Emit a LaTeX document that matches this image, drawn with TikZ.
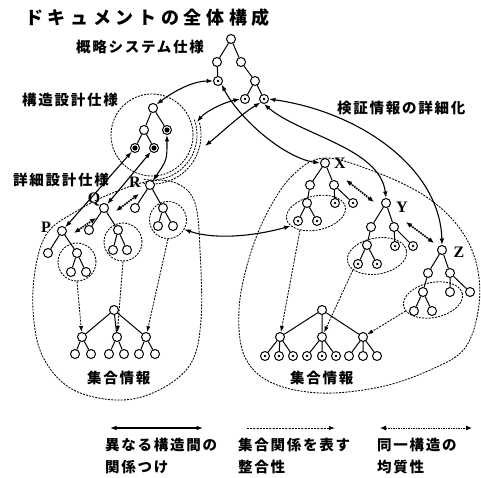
\documentclass[tikz,border=0pt]{standalone}
\usepackage{fontspec}
\usetikzlibrary{arrows.meta,shapes.geometric}
\newfontfamily\jp[LetterSpace=12]{Noto Sans CJK JP}
\newfontfamily\jptitle[LetterSpace=26]{Noto Sans CJK JP}
\newfontfamily\lserif{Liberation Serif}
\begin{document}
\begin{tikzpicture}[x=1pt,y=-1pt,
  nd/.style={circle,draw,line width=1pt,minimum size=9pt,inner sep=0pt,fill=white},
  tedge/.style={line width=1pt},
  dsh/.style={line width=0.85pt,dash pattern=on 2pt off 1.2pt},
  relarrow/.style={line width=1.1pt,{Latex[length=6.5pt,width=4.6pt]}-{Latex[length=6.5pt,width=4.6pt]}},
  setarrow/.style={dsh,-{Latex[length=6pt,width=4.2pt]}},
  homarrow/.style={line width=1.7pt,dash pattern=on 1.6pt off 0.9pt,{Latex[length=6pt,width=5pt]}-{Latex[length=6pt,width=5pt]}},
  lbl/.style={font=\fontsize{14.5}{16}\jp\bfseries,inner sep=0pt,anchor=west},
  ltr/.style={font=\fontsize{16}{16}\lserif\bfseries,inner sep=0pt}
]
\useasboundingbox[fill=white] (0,0) rectangle (481,478);

% regions
\draw[dsh] plot[smooth cycle,tension=0.6] coordinates {(150,181) (178,184) (195,203) (200,250) (201,320) (190,365) (155,392) (115,400) (70,388) (42,355) (33,310) (36,265) (48,232) (75,212) (110,194)};
\draw[dsh] plot[smooth cycle,tension=0.6] coordinates {(325,158) (292,176) (266,215) (248,262) (239,310) (244,355) (270,382) (320,393) (380,387) (430,370) (465,348) (479,305) (476,262) (458,226) (425,196) (378,173)};

% structure design circle and arcs
\node[circle,draw,dsh,minimum size=82pt,inner sep=0pt] (sc) at (152,135) {};
\draw[dsh] plot[domain=20:-102,samples=40] ({152+45*cos(\x)},{135-45*sin(\x)});
\draw[dsh] plot[domain=14:-100,samples=40] ({152+49*cos(\x)},{135-49*sin(\x)});

% subtree circles and ellipses
\node[circle,draw,dsh,minimum size=38pt,inner sep=0pt] (cp) at (77,262) {};
\node[circle,draw,dsh,minimum size=38pt,inner sep=0pt] (cq) at (123,242) {};
\node[circle,draw,dsh,minimum size=37pt,inner sep=0pt] (cr) at (168,220) {};
\node[ellipse,draw,dsh,minimum width=60pt,minimum height=34pt,inner sep=0pt,rotate=12] (ex) at (316,213) {};
\node[ellipse,draw,dsh,minimum width=60pt,minimum height=36pt,inner sep=0pt,rotate=10] (ey) at (377,256) {};
\node[ellipse,draw,dsh,minimum width=60pt,minimum height=35pt,inner sep=0pt,rotate=12] (ez) at (433,300) {};

% top tree
\node[nd] (t0) at (231,39) {};
\node[nd] (t1) at (217,62) {};
\node[nd] (t2) at (241,62) {};
\node[nd] (t3) at (218,81) {};
\node[nd] (t4) at (255,81) {};
\node[nd] (t5) at (245,99) {};
\node[nd] (t6) at (264,99) {};
\draw[tedge] (t0)--(t1) (t0)--(t2) (t1)--(t3) (t2)--(t4) (t4)--(t5) (t4)--(t6);

% structure tree
\node[nd] (s0) at (153,108) {};
\node[nd] (s1) at (144,130) {};
\node[nd] (s2) at (167,130) {};
\node[nd] (s3) at (135,148) {};
\node[nd] (s4) at (154,148) {};
\draw[tedge] (s0)--(s1) (s0)--(s2) (s1)--(s3) (s1)--(s4);

% P Q R
\node[nd] (P) at (62,231) {};
\node[nd] (p1) at (48,253) {};
\node[nd] (p2) at (77,253) {};
\node[nd] (p3) at (71,272) {};
\node[nd] (p4) at (86,272) {};
\draw[tedge] (P)--(p1) (P)--(p2) (p2)--(p3) (p2)--(p4);
\node[nd] (Q) at (104,208) {};
\node[nd] (q1) at (89,230) {};
\node[nd] (q2) at (118,230) {};
\node[nd] (q3) at (113,250) {};
\node[nd] (q4) at (127,250) {};
\draw[tedge] (Q)--(q1) (Q)--(q2) (q2)--(q3) (q2)--(q4);
\node[nd] (R) at (150,185) {};
\node[nd] (r1) at (135,208) {};
\node[nd] (r2) at (163,208) {};
\node[nd] (r3) at (158,226) {};
\node[nd] (r4) at (173,226) {};
\draw[tedge] (R)--(r1) (R)--(r2) (r2)--(r3) (r2)--(r4);

% X Y Z
\node[nd] (x0) at (325,163) {};
\node[nd] (x1) at (310,185) {};
\node[nd] (x2) at (334,185) {};
\node[nd] (x3) at (307,203) {};
\node[nd] (x4) at (298,221) {};
\node[nd] (x5) at (317,221) {};
\node[nd] (x6) at (335,203) {};
\node[nd] (x7) at (353,203) {};
\draw[tedge] (x0)--(x1) (x0)--(x2) (x1)--(x3) (x3)--(x4) (x3)--(x5) (x2)--(x6) (x2)--(x7);
\node[nd] (y0) at (386,203) {};
\node[nd] (y1) at (371,227) {};
\node[nd] (y2) at (394,227) {};
\node[nd] (y3) at (367,245) {};
\node[nd] (y4) at (358,264) {};
\node[nd] (y5) at (377,264) {};
\node[nd] (y6) at (395,246) {};
\node[nd] (y7) at (413,246) {};
\draw[tedge] (y0)--(y1) (y0)--(y2) (y1)--(y3) (y3)--(y4) (y3)--(y5) (y2)--(y6) (y2)--(y7);
\node[nd] (z0) at (442,250) {};
\node[nd] (z1) at (428,273) {};
\node[nd] (z2) at (450,273) {};
\node[nd] (z3) at (423,292) {};
\node[nd] (z4) at (414,311) {};
\node[nd] (z5) at (432,311) {};
\node[nd] (z6) at (450,292) {};
\node[nd] (z7) at (470,292) {};
\draw[tedge] (z0)--(z1) (z0)--(z2) (z1)--(z3) (z3)--(z4) (z3)--(z5) (z2)--(z6) (z2)--(z7);

% bottom left tree
\node[nd] (L0) at (114,310) {};
\node[nd] (L1) at (82,337) {};
\node[nd] (L2) at (117,337) {};
\node[nd] (L3) at (146,337) {};
\node[nd] (l11) at (75,354) {};
\node[nd] (l12) at (91,354) {};
\node[nd] (l21) at (109,354) {};
\node[nd] (l22) at (124,354) {};
\node[nd] (l31) at (139,354) {};
\node[nd] (l32) at (155,354) {};
\draw[tedge] (L0)--(L1) (L0)--(L2) (L0)--(L3) (L1)--(l11) (L1)--(l12) (L2)--(l21) (L2)--(l22) (L3)--(l31) (L3)--(l32);

% bottom right tree
\node[nd] (B0) at (322,310) {};
\node[nd] (B1) at (280,337) {};
\node[nd] (B2) at (322,337) {};
\node[nd] (B3) at (363,337) {};
\node[nd] (b11) at (265,356) {};
\node[nd] (b12) at (279,356) {};
\node[nd] (b13) at (293,356) {};
\node[nd] (b21) at (307,356) {};
\node[nd] (b22) at (322,356) {};
\node[nd] (b23) at (336,356) {};
\node[nd] (b31) at (349,356) {};
\node[nd] (b32) at (363,356) {};
\node[nd] (b33) at (377,356) {};
\draw[tedge] (B0)--(B1) (B0)--(B2) (B0)--(B3) (B1)--(b11) (B1)--(b12) (B1)--(b13) (B2)--(b21) (B2)--(b22) (B2)--(b23) (B3)--(b31) (B3)--(b32) (B3)--(b33);

% centre marks of nodes
\foreach \n in {t3,t5,t6,x4,x5,x6,x7,y4,y5,y6,y7,b11,b12,b13,b21,b22,b23}
  \fill (\n.center) circle (1.3pt);
\foreach \n in {s2,s3,s4}
  \fill (\n.center) circle (2.6pt);

% free ends
\coordinate (ca1) at (197,122);
\coordinate (ca2) at (205,146);
\coordinate (h1a) at (74,233); \coordinate (h1b) at (96,218);
\coordinate (h2a) at (116,211); \coordinate (h2b) at (139,194);
\coordinate (h3a) at (346,180); \coordinate (h3b) at (374,202);
\coordinate (h4a) at (406,222); \coordinate (h4b) at (434,243);

% relation arrows (solid)
\draw[relarrow] (s0.north east) .. controls (178,88) and (196,81) .. (t3.west);
\draw[relarrow] (t5.west) .. controls (222,103) and (205,112) .. (ca1);
\draw[relarrow] (t6.south west) .. controls (240,115) and (220,134) .. (ca2);
\draw[relarrow] (t6.south) .. controls (300,135) and (380,148) .. (y0.north);
\draw[relarrow] (t3.south east) .. controls (240,120) and (285,158) .. (x0.west);
\draw[relarrow] (t6.east) .. controls (360,112) and (440,168) .. (z0.north);
\draw[relarrow] (cr.-30) .. controls (215,240) and (255,236) .. (ex.195);
\draw[relarrow] (s3) -- (P);
\draw[relarrow] (s4) -- (Q);
\draw[relarrow] (s2) .. controls (167,160) .. (R);

% set relation arrows (dotted)
\draw[setarrow] (cp.south) -- (L1);
\draw[setarrow] (cq.south) -- (L2);
\draw[setarrow] (cr.south) -- (L3);
\draw[setarrow] (ex.215) -- (B1);
\draw[setarrow] (ey.200) -- (B2);
\draw[setarrow] (ez.190) -- (B3);

% homogeneity arrows
\draw[homarrow] (h1a) -- (h1b);
\draw[homarrow] (h2a) -- (h2b);
\draw[homarrow] (h3a) -- (h3b);
\draw[homarrow] (h4a) -- (h4b);

% labels
\node[inner sep=0pt,anchor=west,font=\fontsize{18}{20}\jptitle\bfseries] (title) at (25,18) {ドキュメントの全体構成};
\node[lbl] (n1) at (76,47) {概略システム仕様};
\node[lbl] (n2) at (22,100) {構造設計仕様};
\node[lbl] (n3) at (13,180) {詳細設計仕様};
\node[lbl] (n4) at (337,108) {検証情報の詳細化};
\node[lbl] (n5) at (87,378) {集合情報};
\node[lbl] (n6) at (290,378) {集合情報};
\node[ltr] (lp) at (46,227) {P};
\node[ltr] (lq) at (94,200) {Q};
\node[ltr] (lr) at (135,182) {R};
\node[ltr] (lx) at (340,163) {X};
\node[ltr] (ly) at (402,207) {Y};
\node[ltr] (lz) at (459,252) {Z};

% legend
\coordinate (g1a) at (110,428); \coordinate (g1b) at (203,428);
\coordinate (g2a) at (247,428); \coordinate (g2b) at (335,428);
\coordinate (g3a) at (380,428); \coordinate (g3b) at (472,428);
\draw[relarrow] (g1a) -- (g1b);
\draw[setarrow] (g2a) -- (g2b);
\draw[homarrow,line width=1pt] (g3a) -- (g3b);
\node[lbl] (e1) at (105,445) {異なる構造間の};
\node[lbl] (e2) at (105,467) {関係つけ};
\node[lbl] (e3) at (238,445) {集合関係を表す};
\node[lbl] (e4) at (238,467) {整合性};
\node[lbl] (e5) at (377,445) {同一構造の};
\node[lbl] (e6) at (377,467) {均質性};
\end{tikzpicture}
\end{document}
